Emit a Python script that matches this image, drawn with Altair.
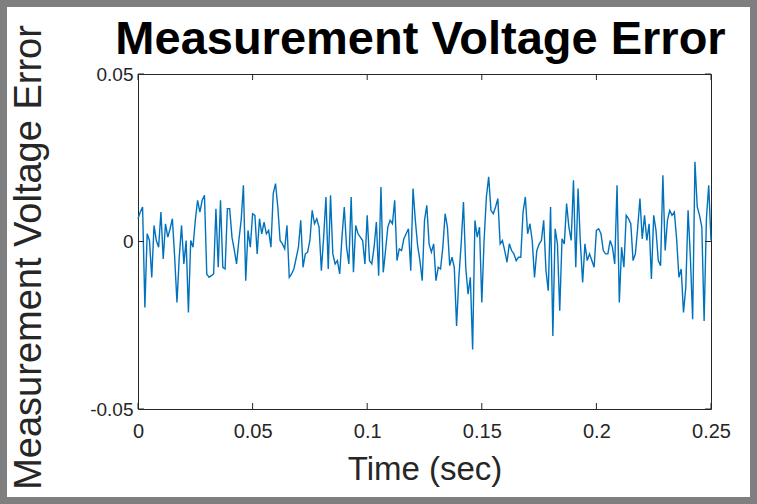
import altair as alt
import pandas as pd

err_mV = [
    6.8, 8.8, 10.3, -19.7, 2.3, 0.3, -10.7, 4.8, 0.3, -1.7, 8.8, -5.2, 5.3, 1.3, 3.8, 6.8,
    -4.7, -18.2, -4.7, 4.8, -6.7, 0.3, -21.2, 0.3, -1.7, 6.3, 12.3, 8.8, 12.3, 13.8, -9.7,
    -10.7, -10.2, -9.7, 9.8, -7.7, 12.3, -7.7, -8.2, 9.8, 9.8,
    1.3, -2.5, -6.7, 0.3, 6.3, 16.8, -11.7, 3.3, -1.7, 8.3, 7.8, -3.7, 6.8, 2.3, 5.8, 2.3,
    3.3, -1.7, 14.3, 17.3, 10.3, 0.3, -0.7, -2.2, 4.8, -10.7, -9.7, -8.2, -5.0, -1.7, 6.3,
    -7.7, -3.7, -3.2, 0.3, 9.3, 5.3, 6.8, 4.3, -8.7, 1.3, 13.3, -8.2,
    13.8, -3.7, -6.7, -5.7, -9.7, 1.3, 10.3, -1.7, -6.7, 13.3, -9.2, 4.8, 2.3, 1.3, 0.3,
    -6.7, 7.8, -5.7, -6.7, -1.7, 5.8, -10.2, 16.3, -9.2, -2.7, 4.3, 6.3, 5.3, 12.3, -5.7,
    -2.2, -2.7, 0.8, 2.3, 3.8, -8.7, 15.8, 6.3, -1.2, -5.7, -11.7,
    6.3, 10.8, -0.7, -3.2, -0.7, -11.7, -7.7, -8.2, -1.7, 8.3, 4.3, -7.2, -4.7, -7.7, -25.2,
    -10.7, -0.7, 11.8, -7.7, -15.7, -10.7, -32.2, 6.3, 1.3, 4.3, -18.2, 0.3, 13.3, 19.3, 9.3,
    8.3, 10.3, 12.8, -0.7, 0.3, -2.7, -6.2, -0.7, -2.7, -3.7, -5.7, -4.7,
    -4.7, 8.8, 13.3, 2.3, 5.3, 0.3, -10.7, -2.7, -0.8, 0.3, 6.3, -8.7, -14.7, 10.3, -28.2,
    3.8, -0.7, -20.7, 0.8, -0.7, 11.3, 4.3, 0.3, 18.3, -7.7, 15.8, -0.2, -12.2, -0.7, -5.7,
    -3.7, -5.7, -7.7, 3.3, 3.8, 2.3, -2.7, -3.7, -3.7, 0.3,
    -1.7, -6.7, 16.8, -18.2, -1.7, -7.7, 7.8, 6.8, 5.3, -5.7, -3.7, 4.0, 12.8, 0.8, 7.8, 0.3,
    5.3, -11.2, 7.8, 3.3, -5.7, -7.2, 19.8, -2.7, 6.3, 9.3, 7.8, 8.8, 0.8, -10.7, -8.2, -21.2,
    -13.7, 9.3, -4.7, -23.2, 23.8, 10.3, 7.8, 4.3, -23.7, 6.8, 16.8, 0.3,
]
sample_period = 0.001
time_s = [i * sample_period for i in range(len(err_mV))]
err_V = [v / 1000.0 for v in err_mV]

x_ticks = [0, 0.05, 0.1, 0.15, 0.2, 0.25]
x_tick_labels = ["0", "0.05", "0.1", "0.15", "0.2", "0.25"]
y_ticks = [-0.05, 0, 0.05]
y_tick_labels = ["-0.05", "0", "0.05"]

title_text = "Measurement Voltage Error"
x_title = "Time (sec)"
y_title = "Measurement Voltage Error"

W, H = 573, 335
PAD = {"left": 138, "top": 74, "right": 46, "bottom": 95}
FONT = "Liberation Sans, Arial, Helvetica, sans-serif"
AX = "#262626"

df = pd.DataFrame({"time": time_s, "err": err_V})
xt = pd.DataFrame({"time": x_ticks})
yt = pd.DataFrame({"err": y_ticks})


def label_expr(vals, labels):
    expr = "''"
    for v, l in zip(vals, labels):
        expr = f"abs(datum.value - ({v})) < 1e-9 ? '{l}' : ({expr})"
    return expr


xscale = alt.Scale(domain=[0, 0.25], nice=False, zero=False)
yscale = alt.Scale(domain=[-0.05, 0.05], nice=False, zero=False)

x_axis = alt.Axis(
    values=x_ticks, labelExpr=label_expr(x_ticks, x_tick_labels),
    title=x_title, ticks=False, grid=False, domain=False,
    labelFlush=False, labelOverlap=False,
    labelFont=FONT, labelFontSize=20, labelColor=AX, labelPadding=12,
    titleFont=FONT, titleFontSize=33, titleFontWeight="normal", titleColor=AX,
    titleX=W / 2, titleY=70, titleAlign="center", titleBaseline="alphabetic",
)
y_axis = alt.Axis(
    values=y_ticks, labelExpr=label_expr(y_ticks, y_tick_labels),
    title=y_title, ticks=False, grid=False, domain=False,
    labelFlush=False, labelOverlap=False,
    labelFont=FONT, labelFontSize=19, labelColor=AX, labelPadding=5,
    titleFont=FONT, titleFontSize=38, titleFontWeight="normal", titleColor=AX,
    titleX=-98, titleY=183, titleAngle=270, titleAlign="center",
    titleBaseline="alphabetic",
)

line = alt.Chart(df).mark_line(color="#0072BD", strokeWidth=1.4).encode(
    x=alt.X("time:Q", scale=xscale, axis=x_axis),
    y=alt.Y("err:Q", scale=yscale, axis=y_axis),
)

TL = 6
tick_b = alt.Chart(xt).mark_rule(color=AX, strokeWidth=1).encode(
    x=alt.X("time:Q", scale=xscale, axis=x_axis), y=alt.value(H), y2=alt.value(H - TL))
tick_t = alt.Chart(xt).mark_rule(color=AX, strokeWidth=1).encode(
    x=alt.X("time:Q", scale=xscale, axis=x_axis), y=alt.value(0), y2=alt.value(TL))
tick_l = alt.Chart(yt).mark_rule(color=AX, strokeWidth=1).encode(
    y=alt.Y("err:Q", scale=yscale, axis=y_axis), x=alt.value(0), x2=alt.value(TL))
tick_r = alt.Chart(yt).mark_rule(color=AX, strokeWidth=1).encode(
    y=alt.Y("err:Q", scale=yscale, axis=y_axis), x=alt.value(W), x2=alt.value(W - TL))

frame = alt.Chart(pd.DataFrame({"k": [0]})).mark_rect(
    fillOpacity=0, stroke="#7f7f7f", strokeWidth=14
).encode(
    x=alt.value(-PAD["left"]), x2=alt.value(W + PAD["right"]),
    y=alt.value(-PAD["top"]), y2=alt.value(H + PAD["bottom"]),
)

chart = alt.layer(line, tick_b, tick_t, tick_l, tick_r, frame).properties(
    width=W, height=H,
    title=alt.TitleParams(
        text=title_text, font=FONT, fontSize=47, fontWeight="bold", color="black",
        anchor="middle", frame="group", offset=0, baseline="alphabetic", dy=108, dx=-4,
    ),
    padding=PAD,
    autosize=alt.AutoSizeParams(type="none"),
    background="white",
).configure_view(stroke=AX, strokeWidth=1)

chart.save("out.html", embed_options={"renderer": "svg", "actions": False})
